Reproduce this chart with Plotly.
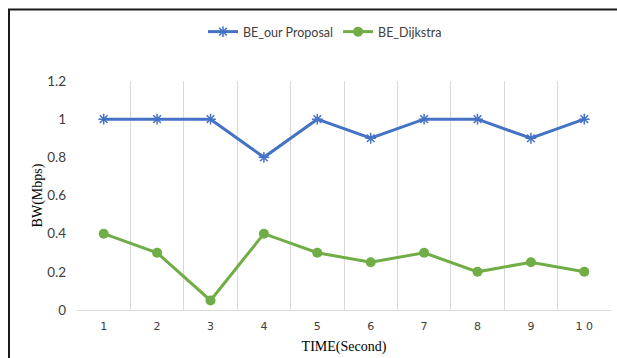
import plotly.graph_objects as go

# Bandwidth over time for the two routing approaches
time_labels = ["1", "2", "3", "4", "5", "6", "7", "8", "9", "1 0"]
bw_proposal = [1.0, 1.0, 1.0, 0.8, 1.0, 0.9, 1.0, 1.0, 0.9, 1.0]
bw_dijkstra = [0.4, 0.3, 0.05, 0.4, 0.3, 0.25, 0.3, 0.2, 0.25, 0.2]
y_ticks = [0, 0.2, 0.4, 0.6, 0.8, 1, 1.2]

W, H = 617, 358
L, R, T, B = 77, 6, 81, 48
pw, ph = W - L - R, H - T - B

fig = go.Figure()
fig.add_trace(go.Scatter(
    x=time_labels, y=bw_proposal, name="BE_our Proposal", mode="lines+markers",
    line=dict(color="#4472C4", width=3),
    marker=dict(symbol="asterisk-open", size=9, color="#4472C4",
                line=dict(color="#4472C4", width=1.5)),
))
fig.add_trace(go.Scatter(
    x=time_labels, y=bw_dijkstra, name="BE_Dijkstra", mode="lines+markers",
    line=dict(color="#70AD47", width=3),
    marker=dict(symbol="circle", size=10, color="#70AD47"),
))

# Frame lines on the left and top edges of the figure
def px_x(v):
    return (v - L) / pw

def px_y(v):
    return (H - B - v) / ph

frame = dict(color="#1a1a1a", width=2)
fig.add_shape(type="line", xref="paper", yref="paper",
              x0=px_x(9), x1=px_x(9), y0=px_y(9.5), y1=px_y(H + 2), line=frame)
fig.add_shape(type="line", xref="paper", yref="paper",
              x0=px_x(8), x1=px_x(W + 2), y0=px_y(9.5), y1=px_y(9.5), line=frame)

fig.update_layout(
    width=W, height=H,
    margin=dict(l=L, r=R, t=T, b=B, autoexpand=False),
    paper_bgcolor="white", plot_bgcolor="white",
    showlegend=True,
    legend=dict(orientation="h", x=px_x(203), xanchor="left", y=px_y(32), yanchor="middle",
                font=dict(family="Lato", size=12.5, color="#404040"),
                itemwidth=30, tracegroupgap=0),
    xaxis=dict(
        type="category", tickson="boundaries", range=[-0.5, len(time_labels) - 0.5],
        showgrid=True, gridcolor="#d9d9d9",
        gridwidth=1, showline=True, linecolor="#d9d9d9", ticks="", zeroline=False,
        automargin=False, ticklabelstandoff=6,
        tickfont=dict(family="DejaVu Sans", size=11, color="#404040"),
        title=dict(text="TIME(Second)", font=dict(family="Liberation Serif", size=14, color="#000"),
                   standoff=8),
    ),
    yaxis=dict(
        range=[0, 1.2], tickvals=y_ticks, ticktext=["0", "0.2", "0.4", "0.6", "0.8", "1", "1.2"],
        showgrid=False, zeroline=False, showline=False, ticks="",
        automargin=False,
        tickfont=dict(family="Lato", size=13.5, color="#404040"),
        ticklabelstandoff=10,
        title=dict(text="BW(Mbps)", font=dict(family="Liberation Serif", size=14, color="#000"),
                   standoff=1),
    ),
)

fig.write_html("out.html")
